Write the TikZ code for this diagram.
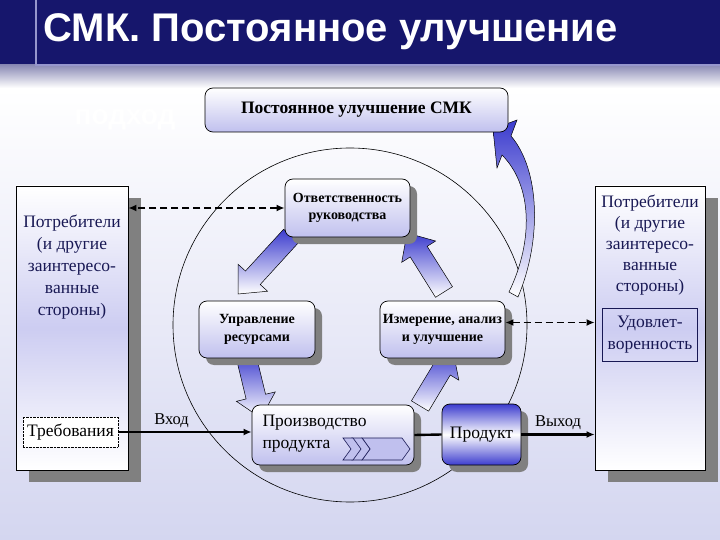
\documentclass[tikz,border=0pt]{standalone}
\usepackage{fontspec}
\setmainfont{Liberation Serif}
\newfontfamily\headfont{Liberation Sans}
\usetikzlibrary{calc,shadows,arrows.meta}

\definecolor{navy}{RGB}{22,22,108}
\definecolor{bgblue}{RGB}{212,214,240}
\definecolor{lav}{RGB}{192,192,238}
\definecolor{arrblue}{RGB}{60,60,206}
\definecolor{txtblue}{RGB}{24,24,84}
\definecolor{rimblue}{RGB}{150,150,205}

\newcommand{\ttlfont}{\headfont\bfseries\fontsize{40}{44}\selectfont}
\newcommand{\ghfont}{\headfont\bfseries\fontsize{28}{30}\selectfont}
\newcommand{\tpfont}{\fontsize{17.5}{20}\selectfont\bfseries}
\newcommand{\bxfont}{\fontsize{14}{17.5}\selectfont\bfseries}
\newcommand{\stfont}{\fontsize{17.5}{22}\selectfont}
\newcommand{\lbfont}{\fontsize{16.5}{19}\selectfont}

% fat arrow from tail #1 to tip #2
\newcommand{\blockarrow}[2]{%
  \coordinate (#1b) at ($(#2)!22pt!(#1)$);
  \draw[blockarr] ($(#1)!10pt!90:(#2)$) -- ($(#1b)!10pt!90:(#2)$)
    -- ($(#1b)!20pt!90:(#2)$) -- (#2) -- ($(#1b)!20pt!-90:(#2)$)
    -- ($(#1b)!10pt!-90:(#2)$) -- ($(#1)!10pt!-90:(#2)$) -- cycle;}
% chevron at x #1, width #2
\newcommand{\chevron}[2]{%
  \draw[chev] (#1,438) -- ++(#2,0) -- ++(8,11) -- ++(-8,11) -- ++(-#2,0)
    -- ++(8,-11) -- cycle;}

\begin{document}
\begin{tikzpicture}[x=1pt, y=-1pt, >={Latex[length=8pt,width=7pt]},
    plainbox/.style={draw, line width=0.7pt, rounded corners=8pt, top color=white,
      bottom color=lav, align=center, inner sep=0pt, font=\bxfont},
    box/.style={plainbox, drop shadow={shadow xshift=7pt, shadow yshift=-7pt,
      fill=gray, opacity=1}},
    bigbox/.style={draw, line width=0.7pt, top color=white, bottom color=white,
      middle color=lav!80, inner sep=0pt, drop shadow={shadow xshift=13pt,
      shadow yshift=-12pt, fill=gray, opacity=1}},
    stake/.style={text=txtblue, align=center, font=\stfont},
    blockarr/.style={draw=black, line width=0.5pt, top color=arrblue,
      bottom color=white},
    flow/.style={->, line width=2.4pt},
    link/.style={<->, line width=1.8pt, dash pattern=on 7pt off 4pt},
    chev/.style={draw=txtblue, fill=lav, line width=0.6pt}]

  \useasboundingbox (0,0) rectangle (720,540);
  % background and title bar
  \fill[white] (0,0) rectangle (720,540);
  \fill[top color=white, bottom color=bgblue] (0,88) rectangle (720,540);
  \fill[navy] (0,0) rectangle (720,65);
  \fill[top color=navy!50, bottom color=white] (0,65) rectangle (720,88);
  \draw[rimblue, line width=1.2pt] (36,0) -- (36,65) -- (720,65);
  \node[anchor=west, text=white, font=\ttlfont] (title) at (40,32)
    {СМК. Постоянное улучшение};
  \node[text=white, font=\ghfont] (ghost) at (125,120) {подход};

  % the cycle
  \node[circle, draw, line width=0.6pt, minimum size=354pt] (cyc) at (350,325) {};

  % fat arrows round the cycle
  \coordinate (a1) at (291,236); \coordinate (a1x) at (238,294);
  \coordinate (a2) at (246,356); \coordinate (a2x) at (261,418);
  \coordinate (a3) at (420,406); \coordinate (a3x) at (453,351);
  \coordinate (a4) at (444,292); \coordinate (a4x) at (407,233);
  \blockarrow{a1}{a1x}
  \blockarrow{a2}{a2x}
  \blockarrow{a3}{a3x}
  \blockarrow{a4}{a4x}
  \draw[blockarr] (509,292) .. controls (534,240) and (532,185) .. (502,155)
    -- (497,168) -- (493,129) -- (517,120) -- (511,136)
    .. controls (540,170) and (542,240) .. (518,297) -- cycle;

  % boxes
  \node[plainbox, minimum width=303pt, minimum height=44pt, font=\tpfont] (imp)
    at (356.5,110) {Постоянное улучшение СМК};

  \node[bigbox, minimum width=112pt, minimum height=284pt] (custL) at (72,328) {};
  \node[stake] (custLtxt) at (72,267)
    {Потребители\\(и другие\\заинтересо-\\ванные\\стороны)};
  \node[draw, densely dotted, fill=white, minimum width=95pt, minimum height=30pt,
    inner sep=0pt, font=\stfont] (req) at (70.5,432) {Требования};

  \node[bigbox, minimum width=110pt, minimum height=284pt] (custR) at (650,328) {};
  \node[stake, font=\fontsize{17.5}{21}\selectfont] (custRtxt) at (650,245)
    {Потребители\\(и другие\\заинтересо-\\ванные\\стороны)};
  \node[draw=txtblue, line width=0.8pt, minimum width=95pt, minimum height=53pt,
    stake] (sat) at (650,335) {Удовлет-\\воренность};

  \node[box, minimum width=125pt, minimum height=58pt] (resp) at (347.5,208)
    {Ответственность\\руководства};
  \node[box, minimum width=116pt, minimum height=57pt] (res) at (257,329.5)
    {Управление\\ресурсами};
  \node[box, minimum width=125pt, minimum height=57pt] (meas) at (442.5,329.5)
    {Измерение, анализ\\и улучшение};
  \node[box, minimum width=162pt, minimum height=60pt] (prod) at (333,435) {};
  \node[anchor=west, align=left, font=\stfont] (prodtxt) at (259,434)
    {Производство\\продукта};
  \chevron{362}{40}
  \chevron{352}{10}
  \chevron{343}{10}
  \node[box, top color=arrblue, bottom color=arrblue, middle color=white,
    minimum width=79pt, minimum height=61pt, font=\stfont] (prt) at (481.5,434.5)
    {Продукт};

  % connectors
  \draw[flow] (req.east) -- node[above, pos=0.4, font=\lbfont] (inlab) {Вход}
    (prod.west |- req.east);
  \draw[line width=2.4pt] (prod.east) -- (prt.west);
  \draw[flow] (prt.east) -- node[above, font=\lbfont] (outlab) {Выход}
    (prt.east -| custR.west);
  \draw[link] (resp.west) -- (resp.west -| custL.east);
  \draw[link] ([yshift=7pt]meas.east) -- ([yshift=7pt]meas.east -| custR.west);
\end{tikzpicture}
\end{document}
